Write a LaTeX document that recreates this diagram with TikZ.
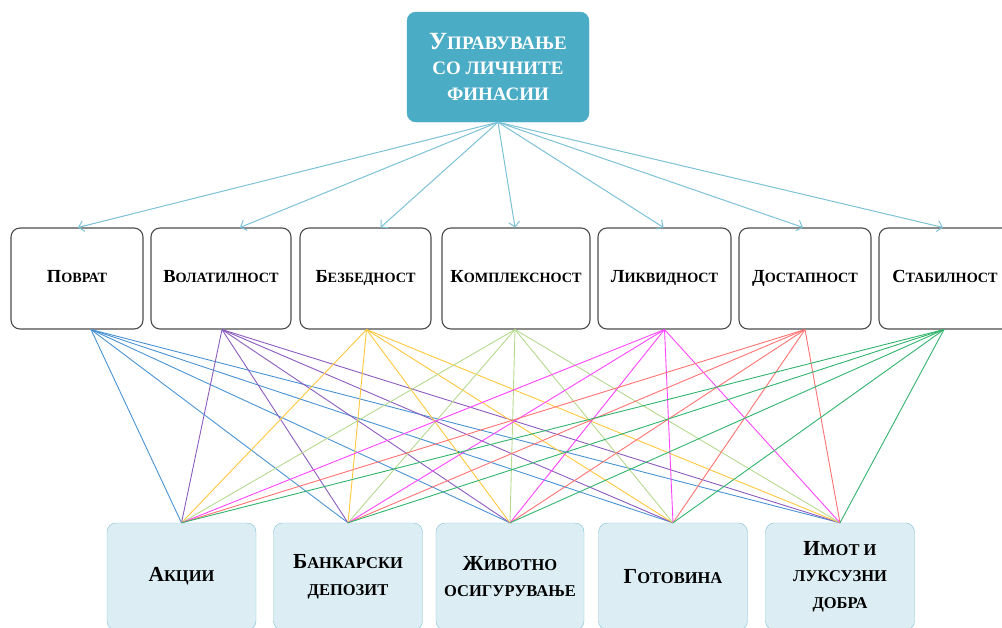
\documentclass[tikz,border=0pt]{standalone}
\usepackage{fontspec}
\usepackage{graphicx}
\setmainfont{Liberation Serif}
\usetikzlibrary{arrows.meta}
\definecolor{goalfill}{HTML}{4BACC6}
\definecolor{feedc}{HTML}{7CC2D6}
\definecolor{altfill}{HTML}{DCEEF4}
\definecolor{altdraw}{HTML}{7FC0D4}
\definecolor{cPov}{HTML}{4A93D3}
\definecolor{cVol}{HTML}{8C5BBE}
\definecolor{cBez}{HTML}{FFC83C}
\definecolor{cKom}{HTML}{B5DA8E}
\definecolor{cLik}{HTML}{FF44FF}
\definecolor{cDos}{HTML}{FF7272}
\definecolor{cSta}{HTML}{30B46C}
\newcommand\Bg[1]{\scalebox{1.3}{#1}}
\tikzset{
  goal/.style={draw=goalfill, fill=goalfill, rounded corners=9pt, text=white,
    font=\bfseries\fontsize{19}{25.5}\selectfont, align=center,
    minimum width=182pt, minimum height=110pt, inner sep=0pt},
  crit/.style={draw=black!70, line width=1.1pt, fill=white, rounded corners=9pt,
    font=\bfseries\fontsize{14.2}{16}\selectfont, text height=10pt, text depth=3pt,
    minimum width=132pt, minimum height=101pt, inner sep=0pt},
  alt/.style={draw=altdraw, fill=altfill, rounded corners=9pt,
    font=\bfseries\fontsize{16.5}{26.5}\selectfont, align=center,
    minimum width=149pt, minimum height=107pt, inner sep=0pt},
  feed/.style={draw=feedc, line width=1pt, -{Straight Barb[length=5pt,width=11pt]}},
  link/.style={line width=0.9pt}
}
\begin{document}
\begin{tikzpicture}[x=1pt,y=-1pt]
  \useasboundingbox (0,0) rectangle (1002,627);
  \clip (0,0) rectangle (1002,627);
  % goal
  \node[goal] (goal) at (498,67) {\Bg{У}ПРАВУВАЊЕ\\СО ЛИЧНИТЕ\\ФИНАСИИ};
  % criteria
  \node[crit] (povrat) at (77,278.5) {\Bg{П}ОВРАТ};
  \node[crit,minimum width=140pt] (volat) at (221,278.5) {\Bg{В}ОЛАТИЛНОСТ};
  \node[crit,minimum width=131pt] (bezb) at (365.5,278.5) {\Bg{Б}ЕЗБЕДНОСТ};
  \node[crit,minimum width=148pt] (kompl) at (516,278.5) {\Bg{К}ОМПЛЕКСНОСТ};
  \node[crit,minimum width=133pt] (likv) at (664.5,278.5) {\Bg{Л}ИКВИДНОСТ};
  \node[crit] (dost) at (805,278.5) {\Bg{Д}ОСТАПНОСТ};
  \node[crit] (stab) at (945,278.5) {\Bg{С}ТАБИЛНОСТ};
  % alternatives
  \node[alt] (akcii) at (181.5,576.5) {\Bg{А}КЦИИ};
  \node[alt] (depozit) at (348,576.5) {\Bg{Б}АНКАРСКИ\\ДЕПОЗИТ};
  \node[alt,minimum width=148pt] (zivot) at (510,576.5) {\Bg{Ж}ИВОТНО\\ОСИГУРУВАЊЕ};
  \node[alt] (gotov) at (673,576.5) {\Bg{Г}ОТОВИНА};
  \node[alt] (imot) at (840,576.5) {\Bg{И}МОТ И\\ЛУКСУЗНИ\\ДОБРА};
  % goal to criteria
  \foreach \c/\dx in {povrat/1,volat/19,bezb/15,kompl/-1,likv/-1,dost/-2,stab/-2}
    \draw[feed] (goal.south) -- ([xshift=\dx pt]\c.north);
  % criteria to alternatives
  \foreach \c/\col/\dx in {povrat/cPov/14,volat/cVol/1,bezb/cBez/1,kompl/cKom/-1,likv/cLik/0,dost/cDos/0,stab/cSta/-1}
    \foreach \a in {akcii,depozit,zivot,gotov,imot}
      \draw[link,\col] ([xshift=\dx pt]\c.south) -- (\a.north);
\end{tikzpicture}
\end{document}
